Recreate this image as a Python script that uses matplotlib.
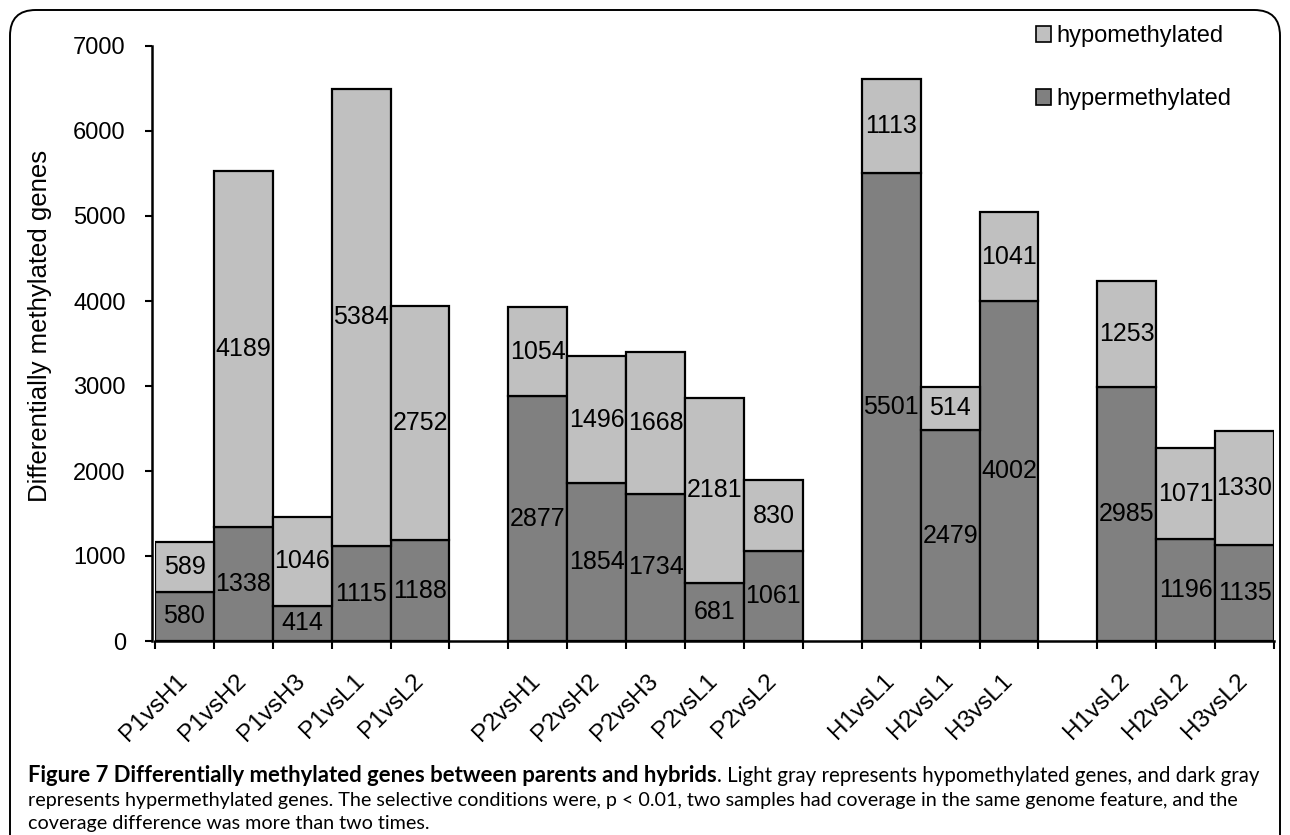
import matplotlib
matplotlib.use("Agg")
import matplotlib.pyplot as plt
from matplotlib.patches import FancyBboxPatch, Patch

categories = ["P1vsH1", "P1vsH2", "P1vsH3", "P1vsL1", "P1vsL2",
              "P2vsH1", "P2vsH2", "P2vsH3", "P2vsL1", "P2vsL2",
              "H1vsL1", "H2vsL1", "H3vsL1",
              "H1vsL2", "H2vsL2", "H3vsL2"]
hyper = [580, 1338, 414, 1115, 1188,
         2877, 1854, 1734, 681, 1061,
         5501, 2479, 4002,
         2985, 1196, 1135]
hypo = [589, 4189, 1046, 5384, 2752,
        1054, 1496, 1668, 2181, 830,
        1113, 514, 1041,
        1253, 1071, 1330]
# slot index of each bar (empty slots separate the groups)
slots = [0, 1, 2, 3, 4, 6, 7, 8, 9, 10, 12, 13, 14, 16, 17, 18]
n_slots = 19
y_ticks = [0, 1000, 2000, 3000, 4000, 5000, 6000, 7000]

caption_bold = "Figure 7 Differentially methylated genes between parents and hybrids"
caption_lines = [". Light gray represents hypomethylated genes, and dark gray",
                 "represents hypermethylated genes. The selective conditions were, p < 0.01, two samples had coverage in the same genome feature, and the",
                 "coverage difference was more than two times."]

LIGHT = "#c0c0c0"
DARK = "#808080"
W, H = 1290, 835

plt.rcParams["font.family"] = ["Liberation Sans", "DejaVu Sans"]
fig = plt.figure(figsize=(W / 100, H / 100), dpi=100)
fig.patch.set_facecolor("white")

# rounded frame
frame = FancyBboxPatch((10 / W, -0.05), (W - 20) / W, 1 - 10 / H + 0.05,
                       boxstyle="round,pad=0,rounding_size=0.02",
                       transform=fig.transFigure, fill=False,
                       edgecolor="black", linewidth=1.4, zorder=0,
                       mutation_aspect=W / H)
fig.patches.append(frame)

ax = fig.add_axes([155 / W, 1 - 641 / H, (1274 - 155) / W, (641 - 46) / H])
centers = [s + 0.5 for s in slots]
ax.bar(centers, hyper, width=1.0, color=DARK, edgecolor="black", linewidth=1.6, zorder=2)
ax.bar(centers, hypo, bottom=hyper, width=1.0, color=LIGHT, edgecolor="black", linewidth=1.6, zorder=2)

for c, d, l in zip(centers, hyper, hypo):
    ax.text(c, d / 2, str(d), ha="center", va="center", fontsize=18, zorder=3)
    ax.text(c, d + l / 2, str(l), ha="center", va="center", fontsize=18, zorder=3)

for side in ["top", "right"]:
    ax.spines[side].set_visible(False)
for side in ["left", "bottom"]:
    ax.spines[side].set_linewidth(1.8)
ax.spines["left"].set_position(("outward", 2))

ax.set_xlim(0, n_slots)
ax.set_ylim(0, 7000)
ax.set_yticks(y_ticks)
ax.set_yticklabels([str(v) for v in y_ticks])
ax.set_xticks(range(n_slots + 1))
ax.set_xticklabels([])
ax.tick_params(axis="y", length=5, width=1.5, pad=14, labelsize=17)
ax.tick_params(axis="x", length=6, width=1.5)

for c, name in zip(centers, categories):
    ax.annotate(name, xy=(c, 0), xycoords=("data", "axes fraction"),
                xytext=(-6, -21), textcoords="offset points",
                rotation=45, ha="right", va="top", rotation_mode="anchor",
                fontsize=17.5)

fig.text(40 / W, 1 - 326 / H, "Differentially methylated genes", rotation=90,
         ha="center", va="center", fontsize=18.5)

handles = [Patch(facecolor=LIGHT, edgecolor="black", linewidth=1.2),
           Patch(facecolor=DARK, edgecolor="black", linewidth=1.2)]
fig.legend(handles, ["hypomethylated", "hypermethylated"], loc="upper left",
           bbox_to_anchor=(1036 / W, 1 - 25 / H), frameon=False, fontsize=17,
           handlelength=0.65, handleheight=0.65, handletextpad=0.2,
           labelspacing=1.75, borderpad=0, borderaxespad=0)

# caption: size fonts so the text widths match the reference
cap_font = ["Lato", "DejaVu Sans"]
renderer = fig.canvas.get_renderer()
x0 = 28


def width_at(text, size, weight="normal"):
    t = fig.text(0, 0, text, fontsize=size, fontweight=weight, family=cap_font)
    w = t.get_window_extent(renderer).width
    t.remove()
    return w


reg_size = 10 * (1240 - x0) / width_at(caption_lines[1], 10)
bold_size = 10 * (718 - x0) / width_at(caption_bold, 10, "bold")

t1 = fig.text(x0 / W, 1 - 782 / H, caption_bold, fontsize=bold_size, fontweight="bold",
              family=cap_font, ha="left", va="baseline")
fig.canvas.draw()
bw = t1.get_window_extent(renderer)
line1_size = min(reg_size * 1.04, 10 * (1280 - bw.x1) / width_at(caption_lines[0], 10))
fig.text(bw.x1 / W, 1 - 782 / H, caption_lines[0], fontsize=line1_size, family=cap_font,
         ha="left", va="baseline")
fig.text(x0 / W, 1 - 806 / H, caption_lines[1], fontsize=reg_size, family=cap_font,
         ha="left", va="baseline")
fig.text(x0 / W, 1 - 829 / H, caption_lines[2], fontsize=reg_size, family=cap_font,
         ha="left", va="baseline")

fig.savefig("out.png", dpi=100)
